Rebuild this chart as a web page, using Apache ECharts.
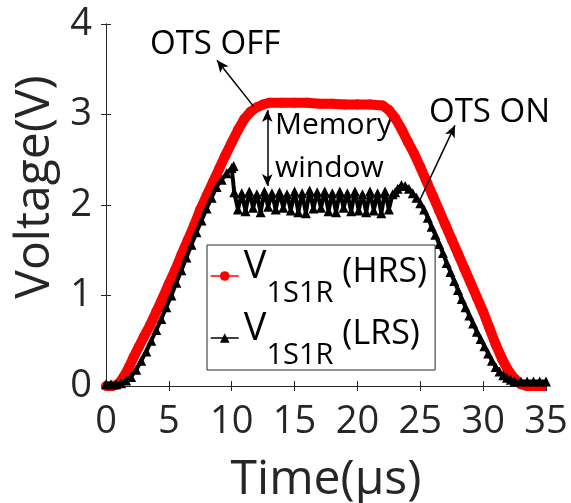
<!DOCTYPE html>
<html>
<head>
<meta charset="utf-8">
<script src="https://cdn.jsdelivr.net/npm/echarts@6/dist/echarts.min.js"></script>
<style>
  html, body { margin: 0; padding: 0; background: #fff; }
  #chart { width: 571px; height: 503px; }
</style>
</head>
<body>
<div id="chart"></div>
<script>
// V1S1R in the high resistance state (red circles)
var hrsTime = [0, 0.5, 1.0, 1.4, 1.8, 2.2, 2.6, 3.0, 3.5, 4.0, 4.5, 5.0, 5.5, 6.0, 6.5, 7.0, 7.5, 8.0, 8.5, 9.0,
  9.5, 10.0, 10.5, 11.0, 11.5, 12.0, 12.5, 13.0, 14, 15, 16, 17, 18, 19, 20, 21, 22,
  22.5, 23.0, 23.5, 24.0, 24.5, 25.0, 25.5, 26.0, 26.5, 27.0, 27.5, 28.0, 28.5, 29.0, 29.5, 30.0,
  30.5, 31.0, 31.5, 32.0, 32.5, 33.0, 33.5, 34.0, 34.5, 35.0];
var hrsVolt = [0, 0, 0.02, 0.1, 0.2, 0.32, 0.43, 0.54, 0.67, 0.82, 0.97, 1.13, 1.28, 1.45, 1.61, 1.77, 1.95, 2.1, 2.25, 2.4,
  2.55, 2.69, 2.83, 2.95, 3.03, 3.08, 3.11, 3.13, 3.13, 3.13, 3.13, 3.12, 3.12, 3.11, 3.11, 3.11, 3.1,
  3.05, 2.96, 2.84, 2.7, 2.57, 2.42, 2.26, 2.1, 1.94, 1.78, 1.62, 1.46, 1.3, 1.14, 0.98, 0.82,
  0.64, 0.46, 0.3, 0.17, 0.08, 0.02, 0, -0.02, -0.02, -0.02];

// V1S1R in the low resistance state (black triangles)
var lrsTime = [0, 0.4, 0.8, 1.2, 1.6, 2.0, 2.4, 2.8, 3.2, 3.6, 4.0, 4.4, 4.8, 5.2, 5.6, 6.0, 6.4, 6.8, 7.2, 7.6,
  8.0, 8.4, 8.8, 9.2, 9.6, 10.0, 10.15,
  10.2, 10.5, 10.8, 11.1, 11.4, 11.7, 12.0, 12.3, 12.6, 12.9, 13.2, 13.5, 13.8, 14.1, 14.4, 14.7,
  15.0, 15.3, 15.6, 15.9, 16.2, 16.5, 16.8, 17.1, 17.4, 17.7, 18.0, 18.3, 18.6, 18.9, 19.2, 19.5,
  19.8, 20.1, 20.4, 20.7, 21.0, 21.3, 21.6, 21.9, 22.2, 22.5, 22.8, 23.0,
  23.2, 23.5, 23.8, 24.1, 24.4, 24.7, 25.0, 25.3, 25.6, 25.9, 26.2, 26.5, 26.8, 27.1, 27.4, 27.7,
  28.0, 28.3, 28.6, 28.9, 29.2, 29.5, 29.8, 30.1, 30.4, 30.7, 31.0, 31.3, 31.6, 31.9, 32.2, 32.5,
  33.0, 33.5, 34.0, 34.5, 35.0];
var lrsVolt = [0.02, 0.02, 0.02, 0.03, 0.06, 0.1, 0.18, 0.28, 0.38, 0.5, 0.62, 0.74, 0.87, 1.0, 1.14, 1.28, 1.42, 1.56, 1.7, 1.83,
  1.96, 2.08, 2.2, 2.28, 2.35, 2.41, 2.43,
  2.14, 1.95, 2.13, 1.93, 2.15, 1.97, 2.12, 1.92, 2.15, 1.98, 2.13, 1.95, 2.14, 1.97, 2.12, 1.94,
  2.15, 1.92, 2.13, 1.91, 2.16, 1.96, 2.14, 1.97, 2.15, 1.93, 2.13, 1.92, 2.15, 1.97, 2.13, 1.93,
  2.15, 1.94, 2.12, 1.92, 2.15, 1.94, 2.13, 1.91, 2.15, 1.95, 2.12, 2.14,
  2.18, 2.22, 2.21, 2.18, 2.13, 2.08, 2.02, 1.95, 1.86, 1.76, 1.67, 1.57, 1.47, 1.36, 1.26, 1.16,
  1.06, 0.96, 0.87, 0.78, 0.69, 0.6, 0.52, 0.44, 0.36, 0.28, 0.21, 0.16, 0.12, 0.09, 0.07, 0.05,
  0.05, 0.05, 0.05, 0.05, 0.05];

var seriesNames = ['HRS', 'LRS'];
var legendStates = ['(HRS)', '(LRS)'];

// annotation arrows: [tail, head] in data units
var offArrow = [[11.74, 3.09], [8.83, 3.6]];
var onArrow = [[24.95, 2.05], [27.76, 2.88]];
var windowArrow = [[12.83, 3.05], [12.83, 2.21]];

var FONT = '"Open Sans", "Noto Sans", sans-serif';
var AXIS = '#262626';

function pairs(xs, ys) {
  return xs.map(function (x, i) { return [x, ys[i]]; });
}

var chart = echarts.init(document.getElementById('chart'), null, { renderer: 'canvas' });

var axisCommon = {
  type: 'value',
  splitLine: { show: false },
  axisLine: { show: true, lineStyle: { color: AXIS, width: 1 } },
  axisTick: { show: true, inside: true, length: 5, lineStyle: { color: AXIS, width: 1 } }
};

var option = {
  animation: false,
  backgroundColor: '#fff',
  textStyle: { fontFamily: FONT },
  grid: { left: 106, right: 25, top: 24, bottom: 117, containLabel: false, outerBoundsMode: 'none' },
  xAxis: [
    Object.assign({}, axisCommon, {
      position: 'bottom', min: 0, max: 35, interval: 5,
      axisLabel: { fontSize: 38, color: AXIS, margin: 17, fontFamily: FONT, showMinLabel: true, showMaxLabel: true },
      name: 'Time(μs)', nameLocation: 'middle', nameGap: 70,
      nameTextStyle: { fontSize: 48, color: AXIS, fontFamily: FONT }
    }),
    Object.assign({}, axisCommon, {
      position: 'top', min: 0, max: 35, interval: 5, axisLabel: { show: false }
    })
  ],
  yAxis: [
    Object.assign({}, axisCommon, {
      position: 'left', min: 0, max: 4, interval: 1,
      axisLabel: { fontSize: 38, color: AXIS, margin: 14, fontFamily: FONT, showMinLabel: true, showMaxLabel: true },
      name: 'Voltage(V)', nameLocation: 'middle', nameGap: 44,
      nameTextStyle: { fontSize: 48, color: AXIS, fontFamily: FONT, padding: [0, 0, 0, 36] }
    }),
    Object.assign({}, axisCommon, {
      position: 'right', min: 0, max: 4, interval: 1, axisLabel: { show: false }
    })
  ],
  legend: {
    left: 207, top: 245, orient: 'vertical',
    itemWidth: 28, itemHeight: 12, itemGap: -1,
    padding: [0, 8, 0, 3],
    borderColor: AXIS, borderWidth: 1, backgroundColor: '#fff',
    lineStyle: { width: 1.5 },
    data: seriesNames,
    formatter: function (name) {
      return '{v|V}{s|1S1R}{h|' + legendStates[seriesNames.indexOf(name)] + '}';
    },
    textStyle: {
      color: '#000', fontFamily: FONT,
      rich: {
        v: { fontSize: 38, fontFamily: FONT, color: '#000', padding: [3, 0, 0, 0], lineHeight: 44, verticalAlign: 'top' },
        s: { fontSize: 29, fontFamily: FONT, color: '#000', padding: [34, 0, 0, 0], lineHeight: 62, verticalAlign: 'top' },
        h: { fontSize: 34, fontFamily: FONT, color: '#000', padding: [10, 0, 0, 9], lineHeight: 44, verticalAlign: 'top' }
      }
    }
  },
  series: [
    {
      name: seriesNames[0], type: 'line',
      data: pairs(hrsTime, hrsVolt),
      symbol: 'circle', symbolSize: 10, showAllSymbol: true,
      itemStyle: { color: '#ff0000' },
      lineStyle: { color: '#ff0000', width: 10 },
      z: 2,
      markLine: {
        silent: true, animation: false,
        symbol: ['none', 'arrow'], symbolSize: [8, 12],
        label: { show: false },
        lineStyle: { color: '#000', width: 1.5, type: 'solid' },
        data: [
          [{ coord: offArrow[0] }, { coord: offArrow[1] }],
          [{ coord: onArrow[0] }, { coord: onArrow[1] }],
          [{ coord: windowArrow[0], symbol: 'arrow' }, { coord: windowArrow[1] }]
        ]
      }
    },
    {
      name: seriesNames[1], type: 'line',
      data: pairs(lrsTime, lrsVolt),
      symbol: 'triangle', symbolSize: 10, showAllSymbol: true,
      itemStyle: { color: '#000' },
      lineStyle: { color: '#000', width: 4 },
      z: 3
    }
  ],
  graphic: [
    { type: 'text', left: 150, top: 28, style: { text: 'OTS OFF', font: '33px ' + FONT, fill: '#000' } },
    { type: 'text', left: 429, top: 96, style: { text: 'OTS ON', font: '33px ' + FONT, fill: '#000' } },
    { type: 'text', left: 275, top: 110, style: { text: 'Memory', font: '30px ' + FONT, fill: '#000' } },
    { type: 'text', left: 275, top: 153, style: { text: 'window', font: '30px ' + FONT, fill: '#000' } }
  ]
};

chart.setOption(option);
</script>
</body>
</html>
